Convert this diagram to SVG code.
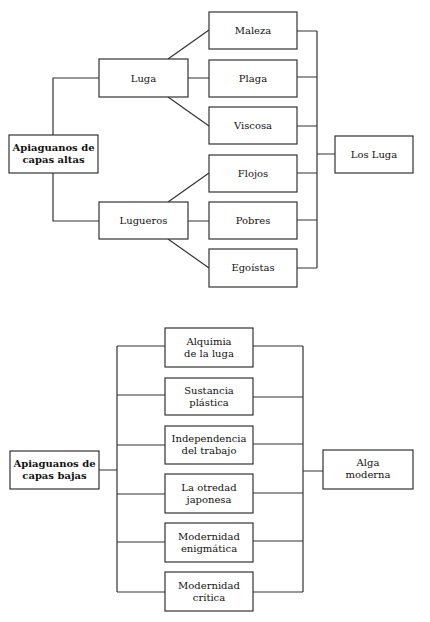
<svg xmlns="http://www.w3.org/2000/svg" width="430" height="622" viewBox="0 0 430 622">
<style>
.n rect{fill:#fff;stroke:#333;stroke-width:1.2}
.c{fill:none;stroke:#333;stroke-width:1.2}
text{font-family:"DejaVu Serif","Liberation Serif",serif;font-size:10px;fill:#111;text-anchor:middle}
.b{font-weight:bold}
</style>
<rect width="430" height="622" fill="#fff"/>
<g id="connectors">
<path class="c" d="M53,135V78H99M53,173V221H99"/>
<path class="c" d="M168,59L209,30M188,78H209M168,97L209,126"/>
<path class="c" d="M168,202L209,173M188,221H209M168,239L209,268"/>
<path class="c" d="M297,31H317M297,77H317M297,126H317M297,173H317M297,220H317M297,268H317M317,31V268M317,154H335"/>
<path class="c" d="M99,470H117M117,346V592M117,346H165M117,395H165M117,445H165M117,494H165M117,542H165M117,592H165"/>
<path class="c" d="M253,346H303M253,397H303M253,444H303M253,493H303M253,541H303M253,592H303M303,346V592M303,471H323"/>
</g>
<g id="n-altas" class="n"><rect x="9" y="135" width="89" height="38"/><text class="b" x="53.5" y="151">Apiaguanos de</text><text class="b" x="53.5" y="163">capas altas</text></g>
<g id="n-luga" class="n"><rect x="99" y="59" width="89" height="38"/><text x="143.5" y="81.5">Luga</text></g>
<g id="n-lugueros" class="n"><rect x="99" y="202" width="89" height="37"/><text x="143.5" y="224">Lugueros</text></g>
<g id="n-maleza" class="n"><rect x="209" y="12" width="88" height="37"/><text x="253" y="34">Maleza</text></g>
<g id="n-plaga" class="n"><rect x="209" y="60" width="88" height="37"/><text x="253" y="82">Plaga</text></g>
<g id="n-viscosa" class="n"><rect x="209" y="107" width="88" height="37"/><text x="253" y="129">Viscosa</text></g>
<g id="n-flojos" class="n"><rect x="209" y="155" width="88" height="37"/><text x="253" y="177">Flojos</text></g>
<g id="n-pobres" class="n"><rect x="209" y="202" width="88" height="37"/><text x="253" y="224">Pobres</text></g>
<g id="n-egoistas" class="n"><rect x="209" y="249" width="88" height="38"/><text x="253" y="271">Egoístas</text></g>
<g id="n-losluga" class="n"><rect x="335" y="136" width="78" height="37"/><text x="374" y="158">Los Luga</text></g>
<g id="n-bajas" class="n"><rect x="10" y="451" width="89" height="38"/><text class="b" x="54.5" y="467">Apiaguanos de</text><text class="b" x="54.5" y="479">capas bajas</text></g>
<g id="n-alquimia" class="n"><rect x="165" y="328" width="88" height="39"/><text x="209" y="345">Alquimia</text><text x="209" y="357">de la luga</text></g>
<g id="n-sustancia" class="n"><rect x="165" y="378" width="88" height="37"/><text x="209" y="394">Sustancia</text><text x="209" y="406">plástica</text></g>
<g id="n-independencia" class="n"><rect x="165" y="426" width="88" height="38"/><text x="209" y="442">Independencia</text><text x="209" y="454">del trabajo</text></g>
<g id="n-otredad" class="n"><rect x="165" y="474" width="88" height="39"/><text x="209" y="491">La otredad</text><text x="209" y="503">japonesa</text></g>
<g id="n-enigmatica" class="n"><rect x="165" y="523" width="88" height="39"/><text x="209" y="540">Modernidad</text><text x="209" y="552">enigmática</text></g>
<g id="n-critica" class="n"><rect x="165" y="572" width="88" height="39"/><text x="209" y="589">Modernidad</text><text x="209" y="601">crítica</text></g>
<g id="n-alga" class="n"><rect x="323" y="450" width="90" height="39"/><text x="368" y="466">Alga</text><text x="368" y="478">moderna</text></g>
</svg>
